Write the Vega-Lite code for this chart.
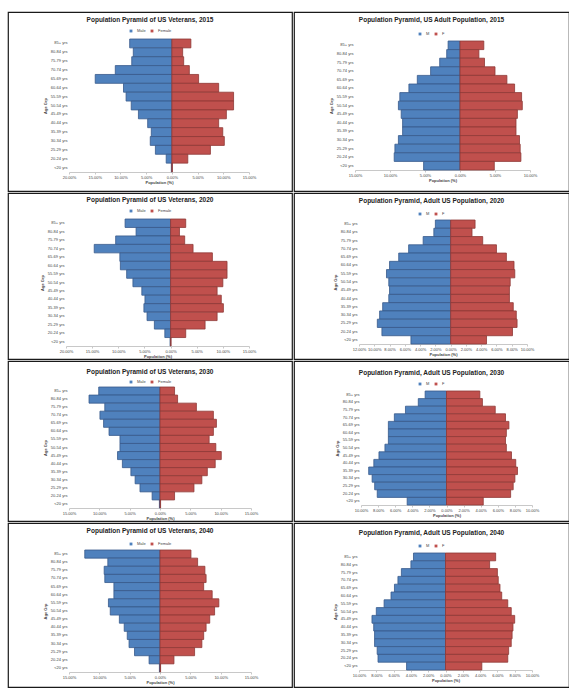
{
"$schema":"https://vega.github.io/schema/vega-lite/v6.json",
"padding":{"left":7,"top":11,"right":0,"bottom":0},
"background":"white",
"data":{"values":[
{"panel":"v2015","age":"85+ yrs","sex":"Male","pct":-8.2},{"panel":"v2015","age":"80-84 yrs","sex":"Male","pct":-7.5},{"panel":"v2015","age":"75-79 yrs","sex":"Male","pct":-7.8},{"panel":"v2015","age":"70-74 yrs","sex":"Male","pct":-11.0},{"panel":"v2015","age":"65-69 yrs","sex":"Male","pct":-14.9},{"panel":"v2015","age":"60-64 yrs","sex":"Male","pct":-9.4},{"panel":"v2015","age":"55-59 yrs","sex":"Male","pct":-8.9},{"panel":"v2015","age":"50-54 yrs","sex":"Male","pct":-7.9},{"panel":"v2015","age":"45-49 yrs","sex":"Male","pct":-6.5},{"panel":"v2015","age":"40-44 yrs","sex":"Male","pct":-4.7},{"panel":"v2015","age":"35-39 yrs","sex":"Male","pct":-4.0},{"panel":"v2015","age":"30-34 yrs","sex":"Male","pct":-4.2},{"panel":"v2015","age":"25-29 yrs","sex":"Male","pct":-3.2},{"panel":"v2015","age":"20-24 yrs","sex":"Male","pct":-1.1},{"panel":"v2015","age":"<20 yrs","sex":"Male","pct":-0.1},
{"panel":"v2015","age":"85+ yrs","sex":"Female","pct":3.7},{"panel":"v2015","age":"80-84 yrs","sex":"Female","pct":2.1},{"panel":"v2015","age":"75-79 yrs","sex":"Female","pct":2.3},{"panel":"v2015","age":"70-74 yrs","sex":"Female","pct":3.4},{"panel":"v2015","age":"65-69 yrs","sex":"Female","pct":5.2},{"panel":"v2015","age":"60-64 yrs","sex":"Female","pct":9.1},{"panel":"v2015","age":"55-59 yrs","sex":"Female","pct":12.0},{"panel":"v2015","age":"50-54 yrs","sex":"Female","pct":12.0},{"panel":"v2015","age":"45-49 yrs","sex":"Female","pct":10.6},{"panel":"v2015","age":"40-44 yrs","sex":"Female","pct":9.1},{"panel":"v2015","age":"35-39 yrs","sex":"Female","pct":9.9},{"panel":"v2015","age":"30-34 yrs","sex":"Female","pct":10.2},{"panel":"v2015","age":"25-29 yrs","sex":"Female","pct":7.5},{"panel":"v2015","age":"20-24 yrs","sex":"Female","pct":3.1},{"panel":"v2015","age":"<20 yrs","sex":"Female","pct":0.1},
{"panel":"u2015","age":"85+ yrs","sex":"Male","pct":-1.7},{"panel":"u2015","age":"80-84 yrs","sex":"Male","pct":-1.9},{"panel":"u2015","age":"75-79 yrs","sex":"Male","pct":-2.9},{"panel":"u2015","age":"70-74 yrs","sex":"Male","pct":-4.2},{"panel":"u2015","age":"65-69 yrs","sex":"Male","pct":-6.1},{"panel":"u2015","age":"60-64 yrs","sex":"Male","pct":-7.3},{"panel":"u2015","age":"55-59 yrs","sex":"Male","pct":-8.6},{"panel":"u2015","age":"50-54 yrs","sex":"Male","pct":-8.8},{"panel":"u2015","age":"45-49 yrs","sex":"Male","pct":-8.4},{"panel":"u2015","age":"40-44 yrs","sex":"Male","pct":-8.2},{"panel":"u2015","age":"35-39 yrs","sex":"Male","pct":-8.2},{"panel":"u2015","age":"30-34 yrs","sex":"Male","pct":-8.8},{"panel":"u2015","age":"25-29 yrs","sex":"Male","pct":-9.3},{"panel":"u2015","age":"20-24 yrs","sex":"Male","pct":-9.4},{"panel":"u2015","age":"<20 yrs","sex":"Male","pct":-5.2},
{"panel":"u2015","age":"85+ yrs","sex":"Female","pct":3.4},{"panel":"u2015","age":"80-84 yrs","sex":"Female","pct":2.7},{"panel":"u2015","age":"75-79 yrs","sex":"Female","pct":3.5},{"panel":"u2015","age":"70-74 yrs","sex":"Female","pct":5.0},{"panel":"u2015","age":"65-69 yrs","sex":"Female","pct":6.7},{"panel":"u2015","age":"60-64 yrs","sex":"Female","pct":7.8},{"panel":"u2015","age":"55-59 yrs","sex":"Female","pct":8.8},{"panel":"u2015","age":"50-54 yrs","sex":"Female","pct":8.9},{"panel":"u2015","age":"45-49 yrs","sex":"Female","pct":8.2},{"panel":"u2015","age":"40-44 yrs","sex":"Female","pct":8.0},{"panel":"u2015","age":"35-39 yrs","sex":"Female","pct":8.0},{"panel":"u2015","age":"30-34 yrs","sex":"Female","pct":8.5},{"panel":"u2015","age":"25-29 yrs","sex":"Female","pct":8.6},{"panel":"u2015","age":"20-24 yrs","sex":"Female","pct":8.7},{"panel":"u2015","age":"<20 yrs","sex":"Female","pct":4.9},
{"panel":"v2020","age":"85+ yrs","sex":"Male","pct":-8.7},{"panel":"v2020","age":"80-84 yrs","sex":"Male","pct":-6.6},{"panel":"v2020","age":"75-79 yrs","sex":"Male","pct":-10.5},{"panel":"v2020","age":"70-74 yrs","sex":"Male","pct":-14.6},{"panel":"v2020","age":"65-69 yrs","sex":"Male","pct":-9.7},{"panel":"v2020","age":"60-64 yrs","sex":"Male","pct":-9.6},{"panel":"v2020","age":"55-59 yrs","sex":"Male","pct":-8.4},{"panel":"v2020","age":"50-54 yrs","sex":"Male","pct":-7.2},{"panel":"v2020","age":"45-49 yrs","sex":"Male","pct":-5.5},{"panel":"v2020","age":"40-44 yrs","sex":"Male","pct":-4.9},{"panel":"v2020","age":"35-39 yrs","sex":"Male","pct":-5.1},{"panel":"v2020","age":"30-34 yrs","sex":"Male","pct":-4.5},{"panel":"v2020","age":"25-29 yrs","sex":"Male","pct":-3.1},{"panel":"v2020","age":"20-24 yrs","sex":"Male","pct":-1.1},{"panel":"v2020","age":"<20 yrs","sex":"Male","pct":-0.1},
{"panel":"v2020","age":"85+ yrs","sex":"Female","pct":2.9},{"panel":"v2020","age":"80-84 yrs","sex":"Female","pct":1.7},{"panel":"v2020","age":"75-79 yrs","sex":"Female","pct":2.7},{"panel":"v2020","age":"70-74 yrs","sex":"Female","pct":4.3},{"panel":"v2020","age":"65-69 yrs","sex":"Female","pct":8.0},{"panel":"v2020","age":"60-64 yrs","sex":"Female","pct":10.8},{"panel":"v2020","age":"55-59 yrs","sex":"Female","pct":10.8},{"panel":"v2020","age":"50-54 yrs","sex":"Female","pct":10.0},{"panel":"v2020","age":"45-49 yrs","sex":"Female","pct":8.9},{"panel":"v2020","age":"40-44 yrs","sex":"Female","pct":9.7},{"panel":"v2020","age":"35-39 yrs","sex":"Female","pct":10.1},{"panel":"v2020","age":"30-34 yrs","sex":"Female","pct":8.9},{"panel":"v2020","age":"25-29 yrs","sex":"Female","pct":6.6},{"panel":"v2020","age":"20-24 yrs","sex":"Female","pct":2.9},{"panel":"v2020","age":"<20 yrs","sex":"Female","pct":0.1},
{"panel":"u2020","age":"85+ yrs","sex":"Male","pct":-2.0},{"panel":"u2020","age":"80-84 yrs","sex":"Male","pct":-2.2},{"panel":"u2020","age":"75-79 yrs","sex":"Male","pct":-3.6},{"panel":"u2020","age":"70-74 yrs","sex":"Male","pct":-5.5},{"panel":"u2020","age":"65-69 yrs","sex":"Male","pct":-6.8},{"panel":"u2020","age":"60-64 yrs","sex":"Male","pct":-8.0},{"panel":"u2020","age":"55-59 yrs","sex":"Male","pct":-8.4},{"panel":"u2020","age":"50-54 yrs","sex":"Male","pct":-8.1},{"panel":"u2020","age":"45-49 yrs","sex":"Male","pct":-8.0},{"panel":"u2020","age":"40-44 yrs","sex":"Male","pct":-8.1},{"panel":"u2020","age":"35-39 yrs","sex":"Male","pct":-8.9},{"panel":"u2020","age":"30-34 yrs","sex":"Male","pct":-9.3},{"panel":"u2020","age":"25-29 yrs","sex":"Male","pct":-9.6},{"panel":"u2020","age":"20-24 yrs","sex":"Male","pct":-9.0},{"panel":"u2020","age":"<20 yrs","sex":"Male","pct":-5.2},
{"panel":"u2020","age":"85+ yrs","sex":"Female","pct":3.2},{"panel":"u2020","age":"80-84 yrs","sex":"Female","pct":2.8},{"panel":"u2020","age":"75-79 yrs","sex":"Female","pct":4.2},{"panel":"u2020","age":"70-74 yrs","sex":"Female","pct":6.0},{"panel":"u2020","age":"65-69 yrs","sex":"Female","pct":7.3},{"panel":"u2020","age":"60-64 yrs","sex":"Female","pct":8.3},{"panel":"u2020","age":"55-59 yrs","sex":"Female","pct":8.4},{"panel":"u2020","age":"50-54 yrs","sex":"Female","pct":7.8},{"panel":"u2020","age":"45-49 yrs","sex":"Female","pct":7.7},{"panel":"u2020","age":"40-44 yrs","sex":"Female","pct":7.7},{"panel":"u2020","age":"35-39 yrs","sex":"Female","pct":8.2},{"panel":"u2020","age":"30-34 yrs","sex":"Female","pct":8.6},{"panel":"u2020","age":"25-29 yrs","sex":"Female","pct":8.7},{"panel":"u2020","age":"20-24 yrs","sex":"Female","pct":8.1},{"panel":"u2020","age":"<20 yrs","sex":"Female","pct":4.7},
{"panel":"v2030","age":"85+ yrs","sex":"Male","pct":-10.1},{"panel":"v2030","age":"80-84 yrs","sex":"Male","pct":-11.7},{"panel":"v2030","age":"75-79 yrs","sex":"Male","pct":-9.1},{"panel":"v2030","age":"70-74 yrs","sex":"Male","pct":-9.9},{"panel":"v2030","age":"65-69 yrs","sex":"Male","pct":-9.3},{"panel":"v2030","age":"60-64 yrs","sex":"Male","pct":-8.4},{"panel":"v2030","age":"55-59 yrs","sex":"Male","pct":-6.6},{"panel":"v2030","age":"50-54 yrs","sex":"Male","pct":-6.6},{"panel":"v2030","age":"45-49 yrs","sex":"Male","pct":-7.0},{"panel":"v2030","age":"40-44 yrs","sex":"Male","pct":-6.2},{"panel":"v2030","age":"35-39 yrs","sex":"Male","pct":-4.8},{"panel":"v2030","age":"30-34 yrs","sex":"Male","pct":-4.1},{"panel":"v2030","age":"25-29 yrs","sex":"Male","pct":-3.3},{"panel":"v2030","age":"20-24 yrs","sex":"Male","pct":-1.3},{"panel":"v2030","age":"<20 yrs","sex":"Male","pct":-0.1},
{"panel":"v2030","age":"85+ yrs","sex":"Female","pct":2.4},{"panel":"v2030","age":"80-84 yrs","sex":"Female","pct":2.9},{"panel":"v2030","age":"75-79 yrs","sex":"Female","pct":6.0},{"panel":"v2030","age":"70-74 yrs","sex":"Female","pct":8.8},{"panel":"v2030","age":"65-69 yrs","sex":"Female","pct":9.3},{"panel":"v2030","age":"60-64 yrs","sex":"Female","pct":8.8},{"panel":"v2030","age":"55-59 yrs","sex":"Female","pct":8.1},{"panel":"v2030","age":"50-54 yrs","sex":"Female","pct":9.2},{"panel":"v2030","age":"45-49 yrs","sex":"Female","pct":10.1},{"panel":"v2030","age":"40-44 yrs","sex":"Female","pct":9.1},{"panel":"v2030","age":"35-39 yrs","sex":"Female","pct":7.8},{"panel":"v2030","age":"30-34 yrs","sex":"Female","pct":6.9},{"panel":"v2030","age":"25-29 yrs","sex":"Female","pct":5.6},{"panel":"v2030","age":"20-24 yrs","sex":"Female","pct":2.4},{"panel":"v2030","age":"<20 yrs","sex":"Female","pct":0.1},
{"panel":"u2030","age":"85+ yrs","sex":"Male","pct":-2.5},{"panel":"u2030","age":"80-84 yrs","sex":"Male","pct":-3.3},{"panel":"u2030","age":"75-79 yrs","sex":"Male","pct":-4.8},{"panel":"u2030","age":"70-74 yrs","sex":"Male","pct":-6.1},{"panel":"u2030","age":"65-69 yrs","sex":"Male","pct":-6.8},{"panel":"u2030","age":"60-64 yrs","sex":"Male","pct":-6.8},{"panel":"u2030","age":"55-59 yrs","sex":"Male","pct":-6.8},{"panel":"u2030","age":"50-54 yrs","sex":"Male","pct":-7.2},{"panel":"u2030","age":"45-49 yrs","sex":"Male","pct":-7.9},{"panel":"u2030","age":"40-44 yrs","sex":"Male","pct":-8.5},{"panel":"u2030","age":"35-39 yrs","sex":"Male","pct":-9.1},{"panel":"u2030","age":"30-34 yrs","sex":"Male","pct":-8.7},{"panel":"u2030","age":"25-29 yrs","sex":"Male","pct":-8.4},{"panel":"u2030","age":"20-24 yrs","sex":"Male","pct":-8.1},{"panel":"u2030","age":"<20 yrs","sex":"Male","pct":-4.6},
{"panel":"u2030","age":"85+ yrs","sex":"Female","pct":3.9},{"panel":"u2030","age":"80-84 yrs","sex":"Female","pct":4.2},{"panel":"u2030","age":"75-79 yrs","sex":"Female","pct":5.7},{"panel":"u2030","age":"70-74 yrs","sex":"Female","pct":6.9},{"panel":"u2030","age":"65-69 yrs","sex":"Female","pct":7.3},{"panel":"u2030","age":"60-64 yrs","sex":"Female","pct":7.0},{"panel":"u2030","age":"55-59 yrs","sex":"Female","pct":6.9},{"panel":"u2030","age":"50-54 yrs","sex":"Female","pct":7.0},{"panel":"u2030","age":"45-49 yrs","sex":"Female","pct":7.6},{"panel":"u2030","age":"40-44 yrs","sex":"Female","pct":8.1},{"panel":"u2030","age":"35-39 yrs","sex":"Female","pct":8.3},{"panel":"u2030","age":"30-34 yrs","sex":"Female","pct":8.0},{"panel":"u2030","age":"25-29 yrs","sex":"Female","pct":7.8},{"panel":"u2030","age":"20-24 yrs","sex":"Female","pct":7.5},{"panel":"u2030","age":"<20 yrs","sex":"Female","pct":4.3},
{"panel":"v2040","age":"85+ yrs","sex":"Male","pct":-12.4},{"panel":"v2040","age":"80-84 yrs","sex":"Male","pct":-8.6},{"panel":"v2040","age":"75-79 yrs","sex":"Male","pct":-9.2},{"panel":"v2040","age":"70-74 yrs","sex":"Male","pct":-9.1},{"panel":"v2040","age":"65-69 yrs","sex":"Male","pct":-7.6},{"panel":"v2040","age":"60-64 yrs","sex":"Male","pct":-7.6},{"panel":"v2040","age":"55-59 yrs","sex":"Male","pct":-8.5},{"panel":"v2040","age":"50-54 yrs","sex":"Male","pct":-8.2},{"panel":"v2040","age":"45-49 yrs","sex":"Male","pct":-6.7},{"panel":"v2040","age":"40-44 yrs","sex":"Male","pct":-5.9},{"panel":"v2040","age":"35-39 yrs","sex":"Male","pct":-5.4},{"panel":"v2040","age":"30-34 yrs","sex":"Male","pct":-5.1},{"panel":"v2040","age":"25-29 yrs","sex":"Male","pct":-4.2},{"panel":"v2040","age":"20-24 yrs","sex":"Male","pct":-1.8},{"panel":"v2040","age":"<20 yrs","sex":"Male","pct":-0.1},
{"panel":"v2040","age":"85+ yrs","sex":"Female","pct":5.1},{"panel":"v2040","age":"80-84 yrs","sex":"Female","pct":6.2},{"panel":"v2040","age":"75-79 yrs","sex":"Female","pct":7.4},{"panel":"v2040","age":"70-74 yrs","sex":"Female","pct":7.6},{"panel":"v2040","age":"65-69 yrs","sex":"Female","pct":7.2},{"panel":"v2040","age":"60-64 yrs","sex":"Female","pct":8.6},{"panel":"v2040","age":"55-59 yrs","sex":"Female","pct":9.7},{"panel":"v2040","age":"50-54 yrs","sex":"Female","pct":9.0},{"panel":"v2040","age":"45-49 yrs","sex":"Female","pct":8.2},{"panel":"v2040","age":"40-44 yrs","sex":"Female","pct":7.6},{"panel":"v2040","age":"35-39 yrs","sex":"Female","pct":7.2},{"panel":"v2040","age":"30-34 yrs","sex":"Female","pct":6.9},{"panel":"v2040","age":"25-29 yrs","sex":"Female","pct":5.7},{"panel":"v2040","age":"20-24 yrs","sex":"Female","pct":2.3},{"panel":"v2040","age":"<20 yrs","sex":"Female","pct":0.1},
{"panel":"u2040","age":"85+ yrs","sex":"Male","pct":-3.7},{"panel":"u2040","age":"80-84 yrs","sex":"Male","pct":-4.0},{"panel":"u2040","age":"75-79 yrs","sex":"Male","pct":-5.1},{"panel":"u2040","age":"70-74 yrs","sex":"Male","pct":-5.5},{"panel":"u2040","age":"65-69 yrs","sex":"Male","pct":-5.9},{"panel":"u2040","age":"60-64 yrs","sex":"Male","pct":-6.3},{"panel":"u2040","age":"55-59 yrs","sex":"Male","pct":-7.1},{"panel":"u2040","age":"50-54 yrs","sex":"Male","pct":-8.0},{"panel":"u2040","age":"45-49 yrs","sex":"Male","pct":-8.5},{"panel":"u2040","age":"40-44 yrs","sex":"Male","pct":-8.3},{"panel":"u2040","age":"35-39 yrs","sex":"Male","pct":-8.2},{"panel":"u2040","age":"30-34 yrs","sex":"Male","pct":-8.2},{"panel":"u2040","age":"25-29 yrs","sex":"Male","pct":-7.9},{"panel":"u2040","age":"20-24 yrs","sex":"Male","pct":-7.8},{"panel":"u2040","age":"<20 yrs","sex":"Male","pct":-4.5},
{"panel":"u2040","age":"85+ yrs","sex":"Female","pct":5.8},{"panel":"u2040","age":"80-84 yrs","sex":"Female","pct":5.1},{"panel":"u2040","age":"75-79 yrs","sex":"Female","pct":6.0},{"panel":"u2040","age":"70-74 yrs","sex":"Female","pct":6.1},{"panel":"u2040","age":"65-69 yrs","sex":"Female","pct":6.3},{"panel":"u2040","age":"60-64 yrs","sex":"Female","pct":6.5},{"panel":"u2040","age":"55-59 yrs","sex":"Female","pct":7.2},{"panel":"u2040","age":"50-54 yrs","sex":"Female","pct":7.6},{"panel":"u2040","age":"45-49 yrs","sex":"Female","pct":8.0},{"panel":"u2040","age":"40-44 yrs","sex":"Female","pct":7.8},{"panel":"u2040","age":"35-39 yrs","sex":"Female","pct":7.7},{"panel":"u2040","age":"30-34 yrs","sex":"Female","pct":7.6},{"panel":"u2040","age":"25-29 yrs","sex":"Female","pct":7.3},{"panel":"u2040","age":"20-24 yrs","sex":"Female","pct":7.2},{"panel":"u2040","age":"<20 yrs","sex":"Female","pct":4.2}
]},
"spacing":0,
"resolve":{"scale":{"color":"independent","stroke":"independent","x":"independent","y":"independent"},"legend":{"color":"independent","stroke":"independent"}},
"vconcat":[
{"hconcat":[
{"title":{"text":"Population Pyramid of US Veterans, 2015","offset":-11},"width":284,"height":179,"transform":[{"filter":"datum.panel == 'v2015'"}],"mark":{"type":"bar","strokeWidth":0.8},
"encoding":{"y":{"field":"age","type":"nominal","sort":["85+ yrs","80-84 yrs","75-79 yrs","70-74 yrs","65-69 yrs","60-64 yrs","55-59 yrs","50-54 yrs","45-49 yrs","40-44 yrs","35-39 yrs","30-34 yrs","25-29 yrs","20-24 yrs","<20 yrs"],"scale":{"paddingInner":0,"paddingOuter":0,"range":[27,160]},"axis":{"title":"Age Grp","offset":-61}},
"x":{"field":"pct","type":"quantitative","scale":{"domain":[-20,15],"nice":false,"zero":false,"range":[61,241]},"axis":{"values":[-20,-15,-10,-5,0,5,10,15],"labelExpr":"format(abs(datum.value)/100,'.2%')","title":"Population (%)","offset":-19}},
"color":{"field":"sex","type":"nominal","scale":{"domain":["Male","Female"],"range":["#4F81BD","#C0504D"]},"legend":{"title":null,"offset":-20.5}},
"stroke":{"field":"sex","type":"nominal","scale":{"domain":["Male","Female"],"range":["#37598A","#8E3936"]},"legend":null}}},
{"title":{"text":"Population Pyramid, US Adult Population, 2015","offset":-11},"width":275,"height":179,"transform":[{"filter":"datum.panel == 'u2015'"}],"mark":{"type":"bar","strokeWidth":0.8},
"encoding":{"y":{"field":"age","type":"nominal","sort":["85+ yrs","80-84 yrs","75-79 yrs","70-74 yrs","65-69 yrs","60-64 yrs","55-59 yrs","50-54 yrs","45-49 yrs","40-44 yrs","35-39 yrs","30-34 yrs","25-29 yrs","20-24 yrs","<20 yrs"],"scale":{"paddingInner":0,"paddingOuter":0,"range":[29,158]},"axis":{"title":"Age Grp","offset":-61}},
"x":{"field":"pct","type":"quantitative","scale":{"domain":[-15,10],"nice":false,"zero":false,"range":[61,236]},"axis":{"values":[-15,-10,-5,0,5,10],"labelExpr":"format(abs(datum.value)/100,'.2%')","title":"Population (%)","offset":-21}},
"color":{"field":"sex","type":"nominal","scale":{"domain":["Male","Female"],"range":["#4F81BD","#C0504D"]},"legend":{"title":null,"offset":-23.5,"labelExpr":"datum.label == 'Male' ? 'M' : 'F'"}},
"stroke":{"field":"sex","type":"nominal","scale":{"domain":["Male","Female"],"range":["#37598A","#8E3936"]},"legend":null}}}
],"spacing":0,"resolve":{"scale":{"color":"independent","stroke":"independent"},"legend":{"color":"independent","stroke":"independent"}}},
{"hconcat":[
{"title":{"text":"Population Pyramid of US Veterans, 2020","offset":-10},"width":284,"height":166,"transform":[{"filter":"datum.panel == 'v2020'"}],"mark":{"type":"bar","strokeWidth":0.8},
"encoding":{"y":{"field":"age","type":"nominal","sort":["85+ yrs","80-84 yrs","75-79 yrs","70-74 yrs","65-69 yrs","60-64 yrs","55-59 yrs","50-54 yrs","45-49 yrs","40-44 yrs","35-39 yrs","30-34 yrs","25-29 yrs","20-24 yrs","<20 yrs"],"scale":{"paddingInner":0,"paddingOuter":0,"range":[26,153]},"axis":{"title":"Age Grp","offset":-58}},
"x":{"field":"pct","type":"quantitative","scale":{"domain":[-20,15],"nice":false,"zero":false,"range":[58,241]},"axis":{"values":[-20,-15,-10,-5,0,5,10,15],"labelExpr":"format(abs(datum.value)/100,'.2%')","title":"Population (%)","offset":-13}},
"color":{"field":"sex","type":"nominal","scale":{"domain":["Male","Female"],"range":["#4F81BD","#C0504D"]},"legend":{"title":null,"offset":-19.5}},
"stroke":{"field":"sex","type":"nominal","scale":{"domain":["Male","Female"],"range":["#37598A","#8E3936"]},"legend":null}}},
{"title":{"text":"Population Pyramid, Adult US Population, 2020","offset":-11},"width":275,"height":166,"transform":[{"filter":"datum.panel == 'u2020'"}],"mark":{"type":"bar","strokeWidth":0.8},
"encoding":{"y":{"field":"age","type":"nominal","sort":["85+ yrs","80-84 yrs","75-79 yrs","70-74 yrs","65-69 yrs","60-64 yrs","55-59 yrs","50-54 yrs","45-49 yrs","40-44 yrs","35-39 yrs","30-34 yrs","25-29 yrs","20-24 yrs","<20 yrs"],"scale":{"paddingInner":0,"paddingOuter":0,"range":[27,151]},"axis":{"title":"Age Grp","offset":-65}},
"x":{"field":"pct","type":"quantitative","scale":{"domain":[-12,10],"nice":false,"zero":false,"range":[65,233]},"axis":{"values":[-12,-10,-8,-6,-4,-2,0,2,4,6,8,10],"labelExpr":"format(abs(datum.value)/100,'.2%')","title":"Population (%)","offset":-15}},
"color":{"field":"sex","type":"nominal","scale":{"domain":["Male","Female"],"range":["#4F81BD","#C0504D"]},"legend":{"title":null,"offset":-22.5,"labelExpr":"datum.label == 'Male' ? 'M' : 'F'"}},
"stroke":{"field":"sex","type":"nominal","scale":{"domain":["Male","Female"],"range":["#37598A","#8E3936"]},"legend":null}}}
],"spacing":0,"resolve":{"scale":{"color":"independent","stroke":"independent"},"legend":{"color":"independent","stroke":"independent"}}},
{"hconcat":[
{"title":{"text":"Population Pyramid of US Veterans, 2030","offset":-14},"width":284,"height":160,"transform":[{"filter":"datum.panel == 'v2030'"}],"mark":{"type":"bar","strokeWidth":0.8},
"encoding":{"y":{"field":"age","type":"nominal","sort":["85+ yrs","80-84 yrs","75-79 yrs","70-74 yrs","65-69 yrs","60-64 yrs","55-59 yrs","50-54 yrs","45-49 yrs","40-44 yrs","35-39 yrs","30-34 yrs","25-29 yrs","20-24 yrs","<20 yrs"],"scale":{"paddingInner":0,"paddingOuter":0,"range":[26,147]},"axis":{"title":"Age Grp","offset":-61}},
"x":{"field":"pct","type":"quantitative","scale":{"domain":[-15,15],"nice":false,"zero":false,"range":[61,243]},"axis":{"values":[-15,-10,-5,0,5,10,15],"labelExpr":"format(abs(datum.value)/100,'.2%')","title":"Population (%)","offset":-13}},
"color":{"field":"sex","type":"nominal","scale":{"domain":["Male","Female"],"range":["#4F81BD","#C0504D"]},"legend":{"title":null,"offset":-22.5}},
"stroke":{"field":"sex","type":"nominal","scale":{"domain":["Male","Female"],"range":["#37598A","#8E3936"]},"legend":null}}},
{"title":{"text":"Population Pyramid, Adult US Population, 2030","offset":-15},"width":275,"height":160,"transform":[{"filter":"datum.panel == 'u2030'"}],"mark":{"type":"bar","strokeWidth":0.8},
"encoding":{"y":{"field":"age","type":"nominal","sort":["85+ yrs","80-84 yrs","75-79 yrs","70-74 yrs","65-69 yrs","60-64 yrs","55-59 yrs","50-54 yrs","45-49 yrs","40-44 yrs","35-39 yrs","30-34 yrs","25-29 yrs","20-24 yrs","<20 yrs"],"scale":{"paddingInner":0,"paddingOuter":0,"range":[30,144]},"axis":{"title":"Age Grp","offset":-67}},
"x":{"field":"pct","type":"quantitative","scale":{"domain":[-10,10],"nice":false,"zero":false,"range":[67,238]},"axis":{"values":[-10,-8,-6,-4,-2,0,2,4,6,8,10],"labelExpr":"format(abs(datum.value)/100,'.2%')","title":"Population (%)","offset":-16}},
"color":{"field":"sex","type":"nominal","scale":{"domain":["Male","Female"],"range":["#4F81BD","#C0504D"]},"legend":{"title":null,"offset":-24.5,"labelExpr":"datum.label == 'Male' ? 'M' : 'F'"}},
"stroke":{"field":"sex","type":"nominal","scale":{"domain":["Male","Female"],"range":["#37598A","#8E3936"]},"legend":null}}}
],"spacing":0,"resolve":{"scale":{"color":"independent","stroke":"independent"},"legend":{"color":"independent","stroke":"independent"}}},
{"hconcat":[
{"title":{"text":"Population Pyramid of US Veterans, 2040","offset":-11},"width":284,"height":164,"transform":[{"filter":"datum.panel == 'v2040'"}],"mark":{"type":"bar","strokeWidth":0.8},
"encoding":{"y":{"field":"age","type":"nominal","sort":["85+ yrs","80-84 yrs","75-79 yrs","70-74 yrs","65-69 yrs","60-64 yrs","55-59 yrs","50-54 yrs","45-49 yrs","40-44 yrs","35-39 yrs","30-34 yrs","25-29 yrs","20-24 yrs","<20 yrs"],"scale":{"paddingInner":0,"paddingOuter":0,"range":[27,149]},"axis":{"title":"Age Grp","offset":-61}},
"x":{"field":"pct","type":"quantitative","scale":{"domain":[-15,15],"nice":false,"zero":false,"range":[61,243]},"axis":{"values":[-15,-10,-5,0,5,10,15],"labelExpr":"format(abs(datum.value)/100,'.2%')","title":"Population (%)","offset":-15}},
"color":{"field":"sex","type":"nominal","scale":{"domain":["Male","Female"],"range":["#4F81BD","#C0504D"]},"legend":{"title":null,"offset":-22.5}},
"stroke":{"field":"sex","type":"nominal","scale":{"domain":["Male","Female"],"range":["#37598A","#8E3936"]},"legend":null}}},
{"title":{"text":"Population Pyramid, Adult US Population, 2040","offset":-13},"width":275,"height":164,"transform":[{"filter":"datum.panel == 'u2040'"}],"mark":{"type":"bar","strokeWidth":0.8},
"encoding":{"y":{"field":"age","type":"nominal","sort":["85+ yrs","80-84 yrs","75-79 yrs","70-74 yrs","65-69 yrs","60-64 yrs","55-59 yrs","50-54 yrs","45-49 yrs","40-44 yrs","35-39 yrs","30-34 yrs","25-29 yrs","20-24 yrs","<20 yrs"],"scale":{"paddingInner":0,"paddingOuter":0,"range":[30,147]},"axis":{"title":"Age Grp","offset":-65}},
"x":{"field":"pct","type":"quantitative","scale":{"domain":[-10,10],"nice":false,"zero":false,"range":[65,238]},"axis":{"values":[-10,-8,-6,-4,-2,0,2,4,6,8,10],"labelExpr":"format(abs(datum.value)/100,'.2%')","title":"Population (%)","offset":-17}},
"color":{"field":"sex","type":"nominal","scale":{"domain":["Male","Female"],"range":["#4F81BD","#C0504D"]},"legend":{"title":null,"offset":-24.5,"labelExpr":"datum.label == 'Male' ? 'M' : 'F'"}},
"stroke":{"field":"sex","type":"nominal","scale":{"domain":["Male","Female"],"range":["#37598A","#8E3936"]},"legend":null}}}
],"spacing":0,"resolve":{"scale":{"color":"independent","stroke":"independent"},"legend":{"color":"independent","stroke":"independent"}}}
],
"config":{
"font":"Liberation Sans",
"view":{"stroke":"#1a1a1a","strokeWidth":1.2},
"title":{"fontSize":6.5,"fontWeight":"bold","color":"#222","anchor":"middle"},
"axis":{"labelFontSize":4,"titleFontSize":4,"labelColor":"#444","titleColor":"#444","titleFontWeight":"bold","grid":false},
"axisX":{"domainColor":"#c8c8c8","tickColor":"#c8c8c8","tickSize":2,"labelPadding":1,"titlePadding":1,"labelFlush":false},
"axisY":{"domain":false,"ticks":false,"labelPadding":2,"titlePadding":3},
"legend":{"orient":"top","direction":"horizontal","symbolType":"square","symbolSize":8,"symbolStrokeWidth":0,"labelFontSize":4,"labelColor":"#444","columnPadding":4,"padding":0,"layout":{"top":{"anchor":"middle"}}}
}
}
